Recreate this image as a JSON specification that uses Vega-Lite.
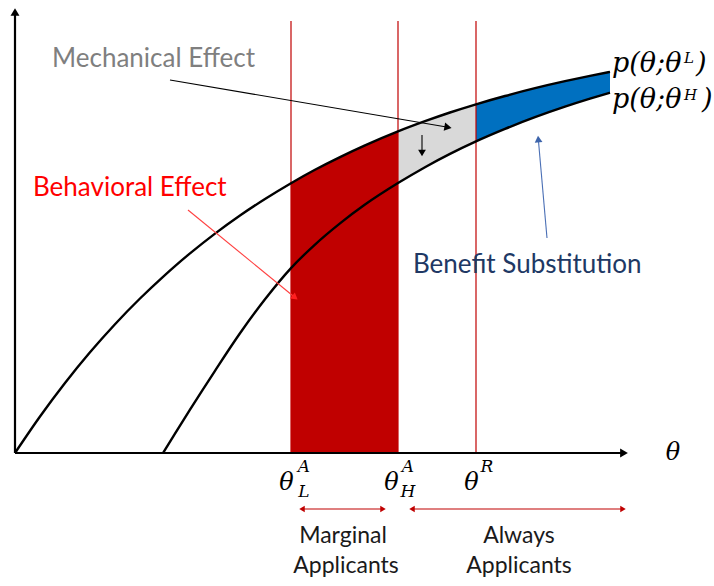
{
 "$schema": "https://vega.github.io/schema/vega-lite/v6.json",
 "width": 714, "height": 586,
 "autosize": {"type": "fit", "contains": "padding"},
 "padding": 0,
 "background": "white",
 "config": {"view": {"stroke": null}},
 "datasets": {
  "curve": [
   {"t": 0, "upper": 0, "lower": null},
   {"t": 25, "upper": 36.5, "lower": null},
   {"t": 50, "upper": 70.0, "lower": null},
   {"t": 75, "upper": 100.7, "lower": null},
   {"t": 100, "upper": 128.8, "lower": null},
   {"t": 125, "upper": 154.5, "lower": null},
   {"t": 148, "upper": 176.2, "lower": 0},
   {"t": 160, "upper": 186.9, "lower": 19.4},
   {"t": 175, "upper": 199.6, "lower": 43.4},
   {"t": 200, "upper": 219.4, "lower": 82.2},
   {"t": 225, "upper": 237.5, "lower": 119.7},
   {"t": 250, "upper": 254.0, "lower": 153.7},
   {"t": 276, "upper": 269.8, "lower": 184.9},
   {"t": 300, "upper": 283.2, "lower": 208.4},
   {"t": 325, "upper": 295.9, "lower": 229.6},
   {"t": 350, "upper": 307.6, "lower": 248.4},
   {"t": 383, "upper": 321.6, "lower": 269.9},
   {"t": 410, "upper": 331.8, "lower": 285.8},
   {"t": 435, "upper": 340.5, "lower": 299.1},
   {"t": 461, "upper": 348.7, "lower": 311.6},
   {"t": 490, "upper": 357.0, "lower": 324.1},
   {"t": 520, "upper": 364.8, "lower": 335.8},
   {"t": 550, "upper": 371.8, "lower": 346.3},
   {"t": 575, "upper": 377.1, "lower": 354.3},
   {"t": 595, "upper": 381.1, "lower": 360.3}
  ],
  "vlines": [{"t": 276}, {"t": 383}, {"t": 461}],
  "arrows": [
   {"id": "mech", "t": 155, "v": 373, "t2": 433, "v2": 325.7},
   {"id": "down", "t": 407, "v": 318, "t2": 407, "v2": 300},
   {"id": "behav", "t": 173, "v": 243, "t2": 280, "v2": 155.5},
   {"id": "benefit", "t": 532, "v": 215, "t2": 523.3, "v2": 314},
   {"id": "marg", "t": 287, "v": -56, "t2": 368, "v2": -56},
   {"id": "always", "t": 397, "v": -56, "t2": 608, "v2": -56},
   {"id": "yaxis", "t": 0, "v": 0, "t2": 0, "v2": 441},
   {"id": "xaxis", "t": 0, "v": 0, "t2": 609, "v2": 0}
  ],
  "heads": [
   {"id": "mech", "t": 433, "v": 325.7},
   {"id": "down", "t": 407, "v": 300},
   {"id": "behav", "t": 280, "v": 155.5},
   {"id": "benefit", "t": 523.3, "v": 314},
   {"id": "left", "t": 287, "v": -56},
   {"id": "right", "t": 368, "v": -56},
   {"id": "left", "t": 397, "v": -56},
   {"id": "right", "t": 608, "v": -56},
   {"id": "yaxis", "t": 0, "v": 441},
   {"id": "xaxis", "t": 609, "v": 0}
  ],
  "labels": [
   {"kind": "gray", "t": 37, "v": 386, "text": "Mechanical Effect"},
   {"kind": "red", "t": 18, "v": 257, "text": "Behavioral Effect"},
   {"kind": "navy", "t": 398, "v": 180, "text": "Benefit Substitution"},
   {"kind": "group", "t": 328, "v": -90, "text": "Marginal"},
   {"kind": "group", "t": 331, "v": -120, "text": "Applicants"},
   {"kind": "group", "t": 504, "v": -90, "text": "Always"},
   {"kind": "group", "t": 504, "v": -120, "text": "Applicants"},
   {"kind": "theta", "t": 271.5, "v": -37, "text": "θ"},
   {"kind": "theta", "t": 376.5, "v": -37, "text": "θ"},
   {"kind": "theta", "t": 456.5, "v": -37, "text": "θ"},
   {"kind": "theta", "t": 658, "v": -7, "text": "θ"},
   {"kind": "script", "t": 289, "v": -19, "text": "A"},
   {"kind": "script", "t": 289, "v": -44, "text": "L"},
   {"kind": "script", "t": 393, "v": -19, "text": "A"},
   {"kind": "script", "t": 393, "v": -44, "text": "H"},
   {"kind": "script", "t": 472, "v": -19, "text": "R"},
   {"kind": "plabel", "t": 597, "v": 381, "text": "p(θ;θ"},
   {"kind": "plabel", "t": 681, "v": 381, "text": ")"},
   {"kind": "plabel", "t": 597, "v": 345, "text": "p(θ;θ"},
   {"kind": "plabel", "t": 687, "v": 345, "text": ")"},
   {"kind": "psup", "t": 669, "v": 390, "text": "L"},
   {"kind": "psup", "t": 669, "v": 353, "text": "H"}
  ]
 },
 "layer": [
  {"data": {"name": "curve"}, "transform": [{"filter": "datum.t >= 276 && datum.t <= 383"}],
   "mark": {"type": "area", "color": "#c00000", "interpolate": "monotone"},
   "encoding": {
    "x": {"field": "t", "type": "quantitative", "scale": {"domain": [-15, 699], "nice": false, "zero": false}, "axis": null},
    "y": {"field": "upper", "type": "quantitative", "scale": {"domain": [-133, 453], "nice": false, "zero": false}, "axis": null},
    "y2": {"datum": 0}}},
  {"data": {"name": "curve"}, "transform": [{"filter": "datum.t >= 383 && datum.t <= 461"}],
   "mark": {"type": "area", "color": "#d9d9d9", "interpolate": "monotone"},
   "encoding": {
    "x": {"field": "t", "type": "quantitative", "scale": {"domain": [-15, 699], "nice": false, "zero": false}, "axis": null},
    "y": {"field": "upper", "type": "quantitative", "scale": {"domain": [-133, 453], "nice": false, "zero": false}, "axis": null},
    "y2": {"field": "lower"}}},
  {"data": {"name": "curve"}, "transform": [{"filter": "datum.t >= 461 && datum.t <= 595"}],
   "mark": {"type": "area", "color": "#0070c0", "interpolate": "monotone"},
   "encoding": {
    "x": {"field": "t", "type": "quantitative", "scale": {"domain": [-15, 699], "nice": false, "zero": false}, "axis": null},
    "y": {"field": "upper", "type": "quantitative", "scale": {"domain": [-133, 453], "nice": false, "zero": false}, "axis": null},
    "y2": {"field": "lower"}}},
  {"data": {"name": "vlines"},
   "mark": {"type": "rule", "color": "#c00000", "strokeWidth": 1.2},
   "encoding": {
    "x": {"field": "t", "type": "quantitative", "scale": {"domain": [-15, 699], "nice": false, "zero": false}, "axis": null},
    "y": {"datum": 0, "type": "quantitative", "scale": {"domain": [-133, 453], "nice": false, "zero": false}, "axis": null},
    "y2": {"datum": 432}}},
  {"data": {"name": "curve"},
   "mark": {"type": "line", "color": "#000000", "strokeWidth": 2.4, "interpolate": "monotone"},
   "encoding": {
    "x": {"field": "t", "type": "quantitative", "scale": {"domain": [-15, 699], "nice": false, "zero": false}, "axis": null},
    "y": {"field": "upper", "type": "quantitative", "scale": {"domain": [-133, 453], "nice": false, "zero": false}, "axis": null}}},
  {"data": {"name": "curve"}, "transform": [{"filter": "datum.lower != null"}],
   "mark": {"type": "line", "color": "#000000", "strokeWidth": 2.4, "interpolate": "monotone"},
   "encoding": {
    "x": {"field": "t", "type": "quantitative", "scale": {"domain": [-15, 699], "nice": false, "zero": false}, "axis": null},
    "y": {"field": "lower", "type": "quantitative", "scale": {"domain": [-133, 453], "nice": false, "zero": false}, "axis": null}}},
  {"data": {"name": "arrows"}, "transform": [{"filter": "datum.id == 'xaxis' || datum.id == 'yaxis'"}],
   "mark": {"type": "rule", "color": "#000000", "strokeWidth": 2.2},
   "encoding": {
    "x": {"field": "t", "type": "quantitative", "scale": {"domain": [-15, 699], "nice": false, "zero": false}, "axis": null},
    "y": {"field": "v", "type": "quantitative", "scale": {"domain": [-133, 453], "nice": false, "zero": false}, "axis": null},
    "x2": {"field": "t2"}, "y2": {"field": "v2"}}},
  {"data": {"name": "arrows"}, "transform": [{"filter": "datum.id != 'xaxis' && datum.id != 'yaxis'"}],
   "mark": {"type": "rule", "strokeWidth": 1.1},
   "encoding": {
    "x": {"field": "t", "type": "quantitative", "scale": {"domain": [-15, 699], "nice": false, "zero": false}, "axis": null},
    "y": {"field": "v", "type": "quantitative", "scale": {"domain": [-133, 453], "nice": false, "zero": false}, "axis": null},
    "x2": {"field": "t2"}, "y2": {"field": "v2"},
    "color": {"field": "id", "type": "nominal", "legend": null,
     "scale": {"domain": ["mech", "down", "behav", "benefit", "marg", "always"], "range": ["#000000", "#000000", "#ff4040", "#4a6fb5", "#c00000", "#c00000"]}}}},
  {"data": {"name": "heads"}, "transform": [{"filter": "datum.id == 'mech'"}],
   "mark": {"type": "point", "shape": "triangle-up", "filled": true, "opacity": 1, "color": "#000000", "size": 70, "angle": 100},
   "encoding": {
    "x": {"field": "t", "type": "quantitative", "scale": {"domain": [-15, 699], "nice": false, "zero": false}, "axis": null},
    "y": {"field": "v", "type": "quantitative", "scale": {"domain": [-133, 453], "nice": false, "zero": false}, "axis": null}}},
  {"data": {"name": "heads"}, "transform": [{"filter": "datum.id == 'down'"}],
   "mark": {"type": "point", "shape": "triangle-up", "filled": true, "opacity": 1, "color": "#000000", "size": 60, "angle": 180},
   "encoding": {
    "x": {"field": "t", "type": "quantitative", "scale": {"domain": [-15, 699], "nice": false, "zero": false}, "axis": null},
    "y": {"field": "v", "type": "quantitative", "scale": {"domain": [-133, 453], "nice": false, "zero": false}, "axis": null}}},
  {"data": {"name": "heads"}, "transform": [{"filter": "datum.id == 'behav'"}],
   "mark": {"type": "point", "shape": "triangle-up", "filled": true, "opacity": 1, "color": "#ff2020", "size": 60, "angle": 129},
   "encoding": {
    "x": {"field": "t", "type": "quantitative", "scale": {"domain": [-15, 699], "nice": false, "zero": false}, "axis": null},
    "y": {"field": "v", "type": "quantitative", "scale": {"domain": [-133, 453], "nice": false, "zero": false}, "axis": null}}},
  {"data": {"name": "heads"}, "transform": [{"filter": "datum.id == 'benefit'"}],
   "mark": {"type": "point", "shape": "triangle-up", "filled": true, "opacity": 1, "color": "#3d64ab", "size": 60, "angle": 355},
   "encoding": {
    "x": {"field": "t", "type": "quantitative", "scale": {"domain": [-15, 699], "nice": false, "zero": false}, "axis": null},
    "y": {"field": "v", "type": "quantitative", "scale": {"domain": [-133, 453], "nice": false, "zero": false}, "axis": null}}},
  {"data": {"name": "heads"}, "transform": [{"filter": "datum.id == 'left'"}],
   "mark": {"type": "point", "shape": "triangle-up", "filled": true, "opacity": 1, "color": "#c00000", "size": 40, "angle": 270},
   "encoding": {
    "x": {"field": "t", "type": "quantitative", "scale": {"domain": [-15, 699], "nice": false, "zero": false}, "axis": null},
    "y": {"field": "v", "type": "quantitative", "scale": {"domain": [-133, 453], "nice": false, "zero": false}, "axis": null}}},
  {"data": {"name": "heads"}, "transform": [{"filter": "datum.id == 'right'"}],
   "mark": {"type": "point", "shape": "triangle-up", "filled": true, "opacity": 1, "color": "#c00000", "size": 40, "angle": 90},
   "encoding": {
    "x": {"field": "t", "type": "quantitative", "scale": {"domain": [-15, 699], "nice": false, "zero": false}, "axis": null},
    "y": {"field": "v", "type": "quantitative", "scale": {"domain": [-133, 453], "nice": false, "zero": false}, "axis": null}}},
  {"data": {"name": "heads"}, "transform": [{"filter": "datum.id == 'yaxis'"}],
   "mark": {"type": "point", "shape": "triangle-up", "filled": true, "opacity": 1, "color": "#000000", "size": 80, "angle": 0},
   "encoding": {
    "x": {"field": "t", "type": "quantitative", "scale": {"domain": [-15, 699], "nice": false, "zero": false}, "axis": null},
    "y": {"field": "v", "type": "quantitative", "scale": {"domain": [-133, 453], "nice": false, "zero": false}, "axis": null}}},
  {"data": {"name": "heads"}, "transform": [{"filter": "datum.id == 'xaxis'"}],
   "mark": {"type": "point", "shape": "triangle-up", "filled": true, "opacity": 1, "color": "#000000", "size": 80, "angle": 90},
   "encoding": {
    "x": {"field": "t", "type": "quantitative", "scale": {"domain": [-15, 699], "nice": false, "zero": false}, "axis": null},
    "y": {"field": "v", "type": "quantitative", "scale": {"domain": [-133, 453], "nice": false, "zero": false}, "axis": null}}},
  {"data": {"name": "labels"}, "transform": [{"filter": "datum.kind == 'gray'"}],
   "mark": {"type": "text", "align": "left", "baseline": "alphabetic", "font": "Lato", "fontSize": 26, "color": "#7f7f7f"},
   "encoding": {
    "x": {"field": "t", "type": "quantitative", "scale": {"domain": [-15, 699], "nice": false, "zero": false}, "axis": null},
    "y": {"field": "v", "type": "quantitative", "scale": {"domain": [-133, 453], "nice": false, "zero": false}, "axis": null},
    "text": {"field": "text"}}},
  {"data": {"name": "labels"}, "transform": [{"filter": "datum.kind == 'red'"}],
   "mark": {"type": "text", "align": "left", "baseline": "alphabetic", "font": "Lato", "fontSize": 26, "color": "#ff0000"},
   "encoding": {
    "x": {"field": "t", "type": "quantitative", "scale": {"domain": [-15, 699], "nice": false, "zero": false}, "axis": null},
    "y": {"field": "v", "type": "quantitative", "scale": {"domain": [-133, 453], "nice": false, "zero": false}, "axis": null},
    "text": {"field": "text"}}},
  {"data": {"name": "labels"}, "transform": [{"filter": "datum.kind == 'navy'"}],
   "mark": {"type": "text", "align": "left", "baseline": "alphabetic", "font": "Lato", "fontSize": 26, "color": "#203864"},
   "encoding": {
    "x": {"field": "t", "type": "quantitative", "scale": {"domain": [-15, 699], "nice": false, "zero": false}, "axis": null},
    "y": {"field": "v", "type": "quantitative", "scale": {"domain": [-133, 453], "nice": false, "zero": false}, "axis": null},
    "text": {"field": "text"}}},
  {"data": {"name": "labels"}, "transform": [{"filter": "datum.kind == 'group'"}],
   "mark": {"type": "text", "align": "center", "baseline": "alphabetic", "font": "Lato", "fontSize": 23, "color": "#1a1a1a"},
   "encoding": {
    "x": {"field": "t", "type": "quantitative", "scale": {"domain": [-15, 699], "nice": false, "zero": false}, "axis": null},
    "y": {"field": "v", "type": "quantitative", "scale": {"domain": [-133, 453], "nice": false, "zero": false}, "axis": null},
    "text": {"field": "text"}}},
  {"data": {"name": "labels"}, "transform": [{"filter": "datum.kind == 'theta'"}],
   "mark": {"type": "text", "align": "center", "baseline": "alphabetic", "font": "DejaVu Serif", "fontStyle": "italic", "fontSize": 24, "color": "#000000"},
   "encoding": {
    "x": {"field": "t", "type": "quantitative", "scale": {"domain": [-15, 699], "nice": false, "zero": false}, "axis": null},
    "y": {"field": "v", "type": "quantitative", "scale": {"domain": [-133, 453], "nice": false, "zero": false}, "axis": null},
    "text": {"field": "text"}}},
  {"data": {"name": "labels"}, "transform": [{"filter": "datum.kind == 'script'"}],
   "mark": {"type": "text", "align": "center", "baseline": "alphabetic", "font": "DejaVu Serif", "fontStyle": "italic", "fontSize": 17, "color": "#000000"},
   "encoding": {
    "x": {"field": "t", "type": "quantitative", "scale": {"domain": [-15, 699], "nice": false, "zero": false}, "axis": null},
    "y": {"field": "v", "type": "quantitative", "scale": {"domain": [-133, 453], "nice": false, "zero": false}, "axis": null},
    "text": {"field": "text"}}},
  {"data": {"name": "labels"}, "transform": [{"filter": "datum.kind == 'plabel'"}],
   "mark": {"type": "text", "align": "left", "baseline": "alphabetic", "font": "DejaVu Serif", "fontStyle": "italic", "fontSize": 27, "color": "#000000"},
   "encoding": {
    "x": {"field": "t", "type": "quantitative", "scale": {"domain": [-15, 699], "nice": false, "zero": false}, "axis": null},
    "y": {"field": "v", "type": "quantitative", "scale": {"domain": [-133, 453], "nice": false, "zero": false}, "axis": null},
    "text": {"field": "text"}}},
  {"data": {"name": "labels"}, "transform": [{"filter": "datum.kind == 'psup'"}],
   "mark": {"type": "text", "align": "left", "baseline": "alphabetic", "font": "DejaVu Serif", "fontStyle": "italic", "fontSize": 15, "color": "#000000"},
   "encoding": {
    "x": {"field": "t", "type": "quantitative", "scale": {"domain": [-15, 699], "nice": false, "zero": false}, "axis": null},
    "y": {"field": "v", "type": "quantitative", "scale": {"domain": [-133, 453], "nice": false, "zero": false}, "axis": null},
    "text": {"field": "text"}}}
 ]
}
